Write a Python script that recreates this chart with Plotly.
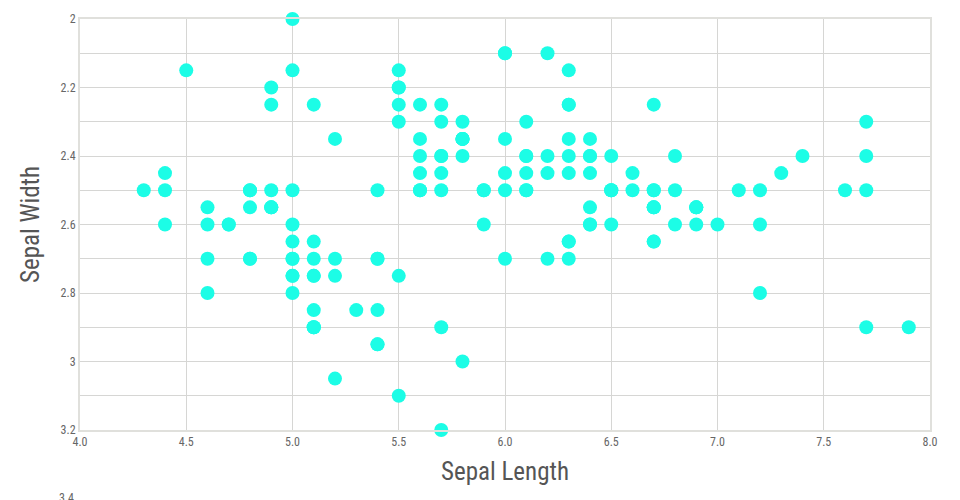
import plotly.graph_objects as go

sepal_length = [
    5.1, 4.9, 4.7, 4.6, 5.0, 5.4, 4.6, 5.0, 4.4, 4.9, 5.4, 4.8, 4.8, 4.3, 5.8, 5.7, 5.4, 5.1, 5.7, 5.1,
    5.4, 5.1, 4.6, 5.1, 4.8, 5.0, 5.0, 5.2, 5.2, 4.7, 4.8, 5.4, 5.2, 5.5, 4.9, 5.0, 5.5, 4.9, 4.4, 5.1,
    5.0, 4.5, 4.4, 5.0, 5.1, 4.8, 5.1, 4.6, 5.3, 5.0,
    7.0, 6.4, 6.9, 5.5, 6.5, 5.7, 6.3, 4.9, 6.6, 5.2, 5.0, 5.9, 6.0, 6.1, 5.6, 6.7, 5.6, 5.8, 6.2, 5.6,
    5.9, 6.1, 6.3, 6.1, 6.4, 6.6, 6.8, 6.7, 6.0, 5.7, 5.5, 5.5, 5.8, 6.0, 5.4, 6.0, 6.7, 6.3, 5.6, 5.5,
    5.5, 6.1, 5.8, 5.0, 5.6, 5.7, 5.7, 6.2, 5.1, 5.7,
    6.3, 5.8, 7.1, 6.3, 6.5, 7.6, 4.9, 7.3, 6.7, 7.2, 6.5, 6.4, 6.8, 5.7, 5.8, 6.4, 6.5, 7.7, 7.7, 6.0,
    6.9, 5.6, 7.7, 6.3, 6.7, 7.2, 6.2, 6.1, 6.4, 7.2, 7.4, 7.9, 6.4, 6.3, 6.1, 7.7, 6.3, 6.4, 6.0, 6.9,
    6.7, 6.9, 5.8, 6.8, 6.7, 6.7, 6.3, 6.5, 6.2, 5.9,
]
sepal_width = [
    3.5, 3.0, 3.2, 3.1, 3.6, 3.9, 3.4, 3.4, 2.9, 3.1, 3.7, 3.4, 3.0, 3.0, 4.0, 4.4, 3.9, 3.5, 3.8, 3.8,
    3.4, 3.7, 3.6, 3.3, 3.4, 3.0, 3.4, 3.5, 3.4, 3.2, 3.1, 3.4, 4.1, 4.2, 3.1, 3.2, 3.5, 3.1, 3.0, 3.4,
    3.5, 2.3, 3.2, 3.5, 3.8, 3.0, 3.8, 3.2, 3.7, 3.3,
    3.2, 3.2, 3.1, 2.3, 2.8, 2.8, 3.3, 2.4, 2.9, 2.7, 2.0, 3.0, 2.2, 2.9, 2.9, 3.1, 3.0, 2.7, 2.2, 2.5,
    3.2, 2.8, 2.5, 2.8, 2.9, 3.0, 2.8, 3.0, 2.9, 2.6, 2.4, 2.4, 2.7, 2.7, 3.0, 3.4, 3.1, 2.3, 3.0, 2.5,
    2.6, 3.0, 2.6, 2.3, 2.7, 3.0, 2.9, 2.9, 2.5, 2.8,
    3.3, 2.7, 3.0, 2.9, 3.0, 3.0, 2.5, 2.9, 2.5, 3.6, 3.2, 2.7, 3.0, 2.5, 2.8, 3.2, 3.0, 3.8, 2.6, 2.2,
    3.2, 2.8, 2.8, 2.7, 3.3, 3.2, 2.8, 3.0, 2.8, 3.0, 2.8, 3.8, 2.8, 2.8, 2.6, 3.0, 3.4, 3.1, 3.0, 3.1,
    3.1, 3.1, 2.7, 3.2, 3.3, 3.0, 2.5, 3.0, 3.4, 3.0,
]

# Y axis range (reversed) and tick positions (grid every 0.2) with the labels shown in the chart
y_range = [4.4, 2.0]
y_tickvals = [2.0, 2.2, 2.4, 2.6, 2.8, 3.0, 3.2, 3.4, 3.6, 3.8, 4.0, 4.2, 4.4]
y_ticktext = ["2", "", "2.2", "", "2.4", "", "2.6", "", "2.8", "", "3", "", "3.2"]
y_extra_label = "3.4"
y_extra_pos = 4.8

x_range = [4.0, 8.0]
x_tickvals = [4.0, 4.5, 5.0, 5.5, 6.0, 6.5, 7.0, 7.5, 8.0]
x_ticktext = ["4.0", "4.5", "5.0", "5.5", "6.0", "6.5", "7.0", "7.5", "8.0"]

FONT = "Roboto Condensed, Liberation Sans Narrow, DejaVu Sans Condensed, Roboto, sans-serif"

fig = go.Figure()
fig.add_trace(go.Scatter(
    x=sepal_length, y=sepal_width, mode="markers",
    marker=dict(size=14, color="#1cfde6", line=dict(width=0)),
    cliponaxis=False, hoverinfo="x+y",
))

# extra tick label below the plot area (outside the axis range), placed in paper units
extra_paper_y = (y_range[0] - y_extra_pos) / (y_range[0] - y_range[1])
fig.add_annotation(
    x=0, xref="paper", xanchor="right", xshift=-4,
    y=extra_paper_y, yref="paper", yanchor="middle",
    text=y_extra_label, showarrow=False,
    font=dict(family=FONT, size=12, color="#666"),
)

axis_common = dict(
    showgrid=True, gridcolor="#d6d6d4", gridwidth=1,
    showline=True, linecolor="#e0e0dc", linewidth=2, mirror=True,
    zeroline=False, ticks="", automargin=False,
    tickfont=dict(family=FONT, size=12, color="#666"),
)

fig.update_layout(
    width=944, height=492,
    margin=dict(l=72, r=22, t=11, b=70),
    paper_bgcolor="white", plot_bgcolor="white",
    showlegend=False,
    font=dict(family=FONT),
    xaxis=dict(
        range=x_range, tickmode="array", tickvals=x_tickvals, ticktext=x_ticktext,
        title=dict(text="Sepal Length", font=dict(family=FONT, size=25, color="#555"), standoff=14),
        **axis_common,
    ),
    yaxis=dict(
        range=y_range, tickmode="array", tickvals=y_tickvals, ticktext=y_ticktext,
        title=dict(text="Sepal Width", font=dict(family=FONT, size=25, color="#555"), standoff=14),
        **axis_common,
    ),
)

fig.write_html("out.html")
